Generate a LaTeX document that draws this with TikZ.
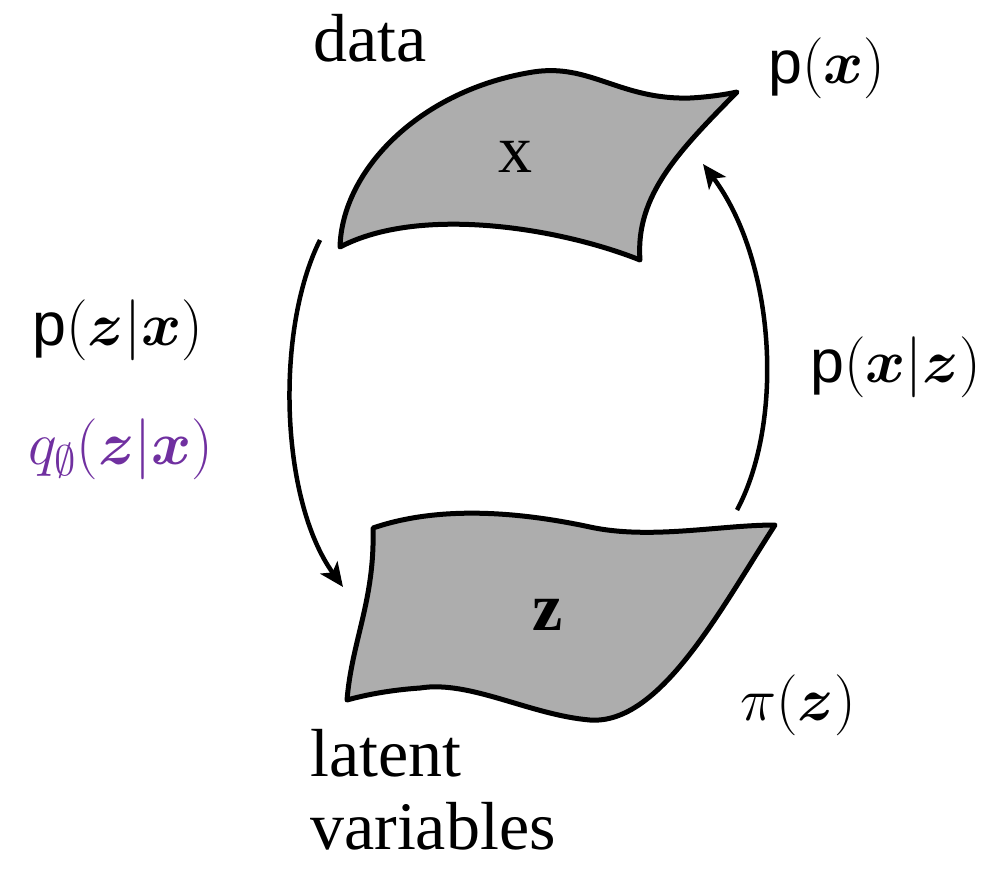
\RequirePackage{fix-cm}
\documentclass[tikz,border=0pt]{standalone}
\usepackage{amsmath,amssymb,bm}
\usepackage{fontspec}
\setmainfont{Liberation Serif}
\newfontfamily\labelsf{Liberation Sans}
\usetikzlibrary{arrows.meta}
\definecolor{sheetgray}{RGB}{173,173,173}
\definecolor{qpurple}{RGB}{112,48,160}
\tikzset{
  sheet/.style={draw=black, line width=5pt, fill=sheetgray, line join=round},
  flow/.style={draw=black, line width=4.5pt, -{Stealth[length=24pt,width=21pt,inset=6pt]}},
  serifbig/.style={inner sep=0pt, font=\fontsize{68}{80}\selectfont},
  mathlab/.style={inner sep=0pt, font=\labelsf\fontsize{61}{70}\selectfont},
}
\begin{document}
\begin{tikzpicture}[x=1pt,y=-1pt]
\useasboundingbox (0,0) rectangle (1008,868);
% top sheet (data)
\path[sheet] (340,247) .. controls (342,170) and (420,90) .. (533,72)
  .. controls (590,63) and (620,100) .. (690,98)
  .. controls (710,97) and (728,94) .. (737,92)
  .. controls (680,150) and (635,195) .. (640,260)
  .. controls (560,228) and (420,205) .. (340,247) -- cycle;
% bottom sheet (latent)
\path[sheet] (373,528) .. controls (440,505) and (520,512) .. (590,527)
  .. controls (650,540) and (720,525) .. (775,525)
  .. controls (720,610) and (660,725) .. (590,720)
  .. controls (530,715) and (470,680) .. (420,688)
  .. controls (390,690) and (365,695) .. (347,700)
  .. controls (352,640) and (375,600) .. (373,528) -- cycle;
\node[serifbig, anchor=base] (xs) at (515,172) {x};
\node[serifbig, anchor=base] (zs) at (548,630) {\bfseries z};
\node[serifbig, anchor=base west] (data) at (313,61) {data};
\node[serifbig, anchor=base west] (latent) at (310,776) {latent};
\node[serifbig, anchor=base west] (variables) at (310,849) {variables};
% arrows
\coordinate (encS) at (320,240);
\coordinate (encE) at (343,587);
\coordinate (decS) at (737,510);
\coordinate (decE) at (703,164);
\draw[flow] (encS) .. controls (275,330) and (280,500) .. (encE);
\draw[flow] (decS) .. controls (785,420) and (775,260) .. (decE);
% labels
\node[mathlab, anchor=base west] (px) at (768,83) {p$(\bm{x})$};
\node[mathlab, anchor=base west] (pzx) at (32,345) {p$(\bm{z}|\bm{x})$};
\node[mathlab, anchor=base west, text=qpurple] (qzx) at (28,464) {$q_{\emptyset}(\bm{z}|\bm{x})$};
\node[mathlab, anchor=base west] (pxz) at (810,382) {p$(\bm{x}|\bm{z})$};
\node[mathlab, anchor=base west] (piz) at (740,720) {$\pi(\bm{z})$};
\end{tikzpicture}
\end{document}
